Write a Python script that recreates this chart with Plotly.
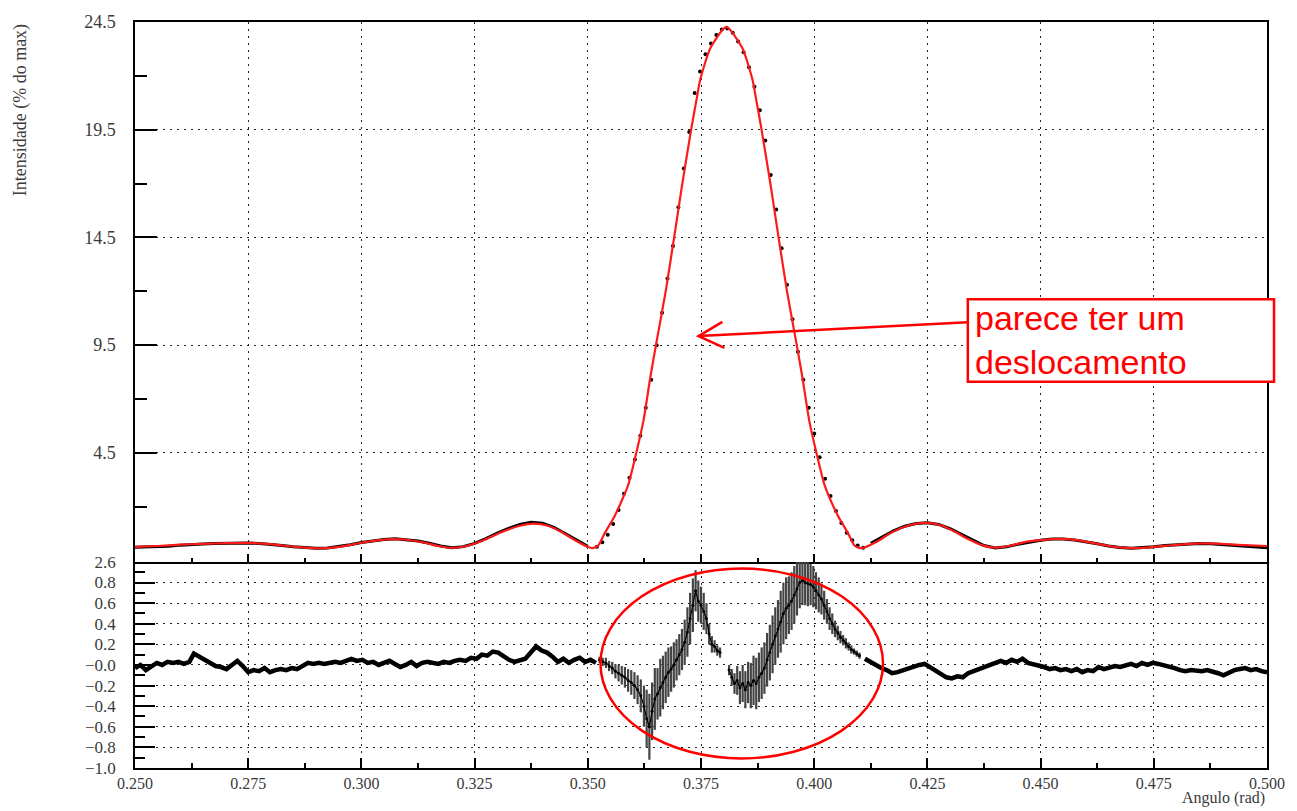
import plotly.graph_objects as go

# ---------------- data ----------------
fit_x = [0.250, 0.255, 0.260, 0.265, 0.270, 0.275, 0.280, 0.285, 0.290, 0.295,
         0.300, 0.304, 0.307, 0.310, 0.314, 0.317, 0.320, 0.323, 0.327, 0.331,
         0.335, 0.338, 0.341, 0.344, 0.347, 0.350, 0.3510, 0.3523, 0.3538, 0.3560,
         0.3589, 0.3607, 0.3623, 0.3638, 0.3651, 0.3672, 0.3691, 0.3708, 0.3729, 0.3741,
         0.3748, 0.3771, 0.3806, 0.3841, 0.3864, 0.3871, 0.3883, 0.3904, 0.3921, 0.3940,
         0.3961, 0.3974, 0.3989, 0.4005, 0.4023, 0.4052, 0.4074, 0.4089, 0.4102, 0.4112,
         0.414, 0.417, 0.421, 0.4245, 0.428, 0.431, 0.434, 0.437, 0.440, 0.443,
         0.447, 0.450, 0.454, 0.458, 0.462, 0.466, 0.470, 0.474, 0.478, 0.482,
         0.486, 0.490, 0.495, 0.500]
fit_y = [0.14, 0.18, 0.24, 0.28, 0.31, 0.32, 0.27, 0.15, 0.07, 0.14,
         0.33, 0.45, 0.50, 0.47, 0.33, 0.18, 0.09, 0.17, 0.45, 0.83,
         1.12, 1.22, 1.13, 0.85, 0.47, 0.14, 0.08, 0.20, 0.80, 1.60,
         3.00, 4.50, 6.00, 8.00, 9.56, 12.0, 14.54, 16.9, 19.6, 21.0,
         21.8, 23.3, 24.27, 23.3, 21.8, 21.0, 19.6, 16.9, 14.54, 12.0,
         9.56, 8.00, 6.00, 4.50, 3.00, 1.60, 0.80, 0.20, 0.08, 0.12,
         0.40, 0.80, 1.14, 1.25, 1.14, 0.85, 0.50, 0.22, 0.10, 0.18,
         0.38, 0.45, 0.51, 0.45, 0.30, 0.15, 0.08, 0.12, 0.20, 0.27,
         0.30, 0.28, 0.22, 0.18]

data_left_x = [0.2500, 0.2525, 0.2550, 0.2575, 0.2600, 0.2625, 0.2650, 0.2675, 0.2700, 0.2725,
               0.2750, 0.2775, 0.2800, 0.2825, 0.2850, 0.2875, 0.2900, 0.2925, 0.2950, 0.2975,
               0.3000, 0.3025, 0.3050, 0.3075, 0.3100, 0.3125, 0.3150, 0.3175, 0.3200, 0.3225,
               0.3250, 0.3275, 0.3300, 0.3325, 0.3350, 0.3375, 0.3400, 0.3425, 0.3450, 0.3475,
               0.3500]
data_left_y = [0.12, 0.13, 0.15, 0.17, 0.22, 0.26, 0.27, 0.29, 0.31, 0.33,
               0.32, 0.30, 0.26, 0.20, 0.14, 0.09, 0.07, 0.09, 0.15, 0.24,
               0.34, 0.42, 0.48, 0.52, 0.48, 0.41, 0.31, 0.18, 0.10, 0.15,
               0.30, 0.52, 0.78, 1.00, 1.18, 1.28, 1.24, 1.05, 0.76, 0.44,
               0.16]
data_mid_x = [0.3520, 0.3532, 0.3544, 0.3556, 0.3568, 0.3580, 0.3592, 0.3604, 0.3616, 0.3628,
              0.3640, 0.3652, 0.3664, 0.3676, 0.3688, 0.3700, 0.3712, 0.3724, 0.3736, 0.3748,
              0.3760, 0.3772, 0.3784, 0.3796, 0.3808, 0.3820, 0.3832, 0.3844, 0.3856, 0.3868,
              0.3880, 0.3892, 0.3904, 0.3916, 0.3928, 0.3940, 0.3952, 0.3964, 0.3976, 0.3988,
              0.4000, 0.4012, 0.4024, 0.4036, 0.4048, 0.4060, 0.4072, 0.4084, 0.4096, 0.4108]
data_mid_y = [0.15, 0.35, 0.70, 1.20, 1.85, 2.60, 3.35, 4.20, 5.30, 6.60,
              7.90, 9.50, 11.0, 12.6, 14.1, 15.9, 17.7, 19.4, 21.2, 22.2,
              23.0, 23.5, 23.9, 24.15, 24.2, 24.0, 23.6, 23.1, 22.4, 21.5,
              20.4, 19.0, 17.4, 15.8, 14.0, 12.3, 10.7, 9.2, 7.9, 6.6,
              5.4, 4.3, 3.3, 2.5, 1.8, 1.25, 0.80, 0.45, 0.20, 0.10]
data_right_x = [0.4125, 0.4150, 0.4175, 0.4200, 0.4225, 0.4250, 0.4275, 0.4300, 0.4325, 0.4350,
                0.4375, 0.4400, 0.4425, 0.4450, 0.4475, 0.4500, 0.4525, 0.4550, 0.4575, 0.4600,
                0.4625, 0.4650, 0.4675, 0.4700, 0.4725, 0.4750, 0.4775, 0.4800, 0.4825, 0.4850,
                0.4875, 0.4900, 0.4925, 0.4950, 0.4975, 0.5000]
data_right_y = [0.30, 0.58, 0.88, 1.10, 1.22, 1.26, 1.18, 0.98, 0.72, 0.44,
                0.20, 0.09, 0.14, 0.26, 0.37, 0.45, 0.50, 0.50, 0.46, 0.38,
                0.28, 0.18, 0.11, 0.08, 0.10, 0.15, 0.20, 0.24, 0.27, 0.29,
                0.28, 0.25, 0.20, 0.16, 0.13, 0.10]

res_left_x = [0.2500, 0.2512, 0.2524, 0.2536, 0.2548, 0.2560, 0.2572, 0.2584, 0.2596, 0.2608,
              0.2620, 0.2630, 0.2642, 0.2654, 0.2666, 0.2678, 0.2690, 0.2702, 0.2714, 0.2726,
              0.2738, 0.2750, 0.2762, 0.2774, 0.2786, 0.2798, 0.2810, 0.2822, 0.2834, 0.2846,
              0.2858, 0.2870, 0.2882, 0.2894, 0.2906, 0.2918, 0.2930, 0.2942, 0.2954, 0.2966,
              0.2978, 0.2990, 0.3002, 0.3014, 0.3026, 0.3038, 0.3050, 0.3062, 0.3074, 0.3086,
              0.3098, 0.3110, 0.3122, 0.3134, 0.3146, 0.3158, 0.3170, 0.3182, 0.3194, 0.3206,
              0.3218, 0.3230, 0.3242, 0.3254, 0.3266, 0.3278, 0.3290, 0.3302, 0.3314, 0.3326,
              0.3338, 0.3350, 0.3362, 0.3374, 0.3386, 0.3398, 0.3410, 0.3422, 0.3434, 0.3446,
              0.3458, 0.3470, 0.3482, 0.3494, 0.3506, 0.3518]
res_left_y = [-0.03, 0.00, -0.05, -0.01, 0.02, 0.00, 0.03, 0.02, 0.03, 0.01,
              0.03, 0.11, 0.08, 0.06, 0.03, -0.01, -0.02, -0.04, 0.00, 0.04,
              -0.01, -0.07, -0.05, -0.06, -0.03, -0.07, -0.05, -0.04, -0.05, -0.03,
              -0.04, -0.01, 0.02, 0.01, 0.02, 0.01, 0.02, 0.03, 0.02, 0.04,
              0.06, 0.04, 0.05, 0.02, 0.03, 0.00, 0.02, 0.04, 0.01, -0.02,
              0.00, 0.03, -0.01, 0.02, 0.03, 0.02, 0.01, 0.03, 0.02, 0.04,
              0.05, 0.04, 0.07, 0.06, 0.10, 0.09, 0.13, 0.12, 0.08, 0.05,
              0.03, 0.04, 0.06, 0.12, 0.18, 0.14, 0.12, 0.08, 0.03, 0.06,
              0.02, 0.05, 0.07, 0.03, 0.05, 0.02]

res_mid_x = [0.3526, 0.3533, 0.3540, 0.3547, 0.3554, 0.3561, 0.3568, 0.3575, 0.3582, 0.3589,
             0.3596, 0.3603, 0.3610, 0.3617, 0.3624, 0.3630, 0.3636, 0.3642, 0.3648, 0.3654,
             0.3660, 0.3666, 0.3672, 0.3678, 0.3684, 0.3690, 0.3696, 0.3702, 0.3708, 0.3714,
             0.3720, 0.3726, 0.3732, 0.3738, 0.3744, 0.3750, 0.3756, 0.3762, 0.3768, 0.3774,
             0.3780, 0.3786, 0.3792, None, 0.3812, 0.3818, 0.3824, 0.3830, 0.3836, 0.3842,
             0.3848, 0.3854, 0.3860, 0.3866, 0.3872, 0.3878, 0.3884, 0.3890, 0.3896, 0.3902,
             0.3908, 0.3914, 0.3920, 0.3926, 0.3932, 0.3938, 0.3944, 0.3950, 0.3956, 0.3962,
             0.3968, 0.3974, 0.3980, 0.3986, 0.3992, 0.3998, 0.4004, 0.4010, 0.4016, 0.4022,
             0.4028, 0.4034, 0.4040, 0.4046, 0.4052, 0.4058, 0.4064, 0.4070, 0.4076, 0.4082,
             0.4088, 0.4094, 0.4100]
res_mid_y = [0.05, 0.03, 0.02, -0.01, -0.03, -0.06, -0.08, -0.10, -0.12, -0.15,
             -0.17, -0.20, -0.24, -0.30, -0.40, -0.52, -0.60, -0.45, -0.33, -0.28,
             -0.22, -0.17, -0.12, -0.07, -0.04, 0.00, 0.05, 0.10, 0.15, 0.22,
             0.32, 0.45, 0.58, 0.72, 0.62, 0.58, 0.52, 0.45, 0.30, 0.20,
             0.18, 0.14, 0.12, None, -0.05, -0.12, -0.18, -0.15, -0.22, -0.18,
             -0.24, -0.17, -0.20, -0.15, -0.18, -0.12, -0.08, -0.03, 0.05, 0.12,
             0.20, 0.28, 0.35, 0.42, 0.50, 0.55, 0.58, 0.62, 0.68, 0.74,
             0.80, 0.82, 0.80, 0.79, 0.78, 0.76, 0.72, 0.68, 0.64, 0.58,
             0.52, 0.45, 0.40, 0.35, 0.31, 0.27, 0.24, 0.21, 0.18, 0.15,
             0.13, 0.11, 0.09]
res_mid_err = [0.03, 0.04, 0.05, 0.05, 0.06, 0.07, 0.08, 0.09, 0.10, 0.11,
               0.12, 0.13, 0.14, 0.16, 0.20, 0.28, 0.32, 0.28, 0.30, 0.25,
               0.28, 0.26, 0.25, 0.24, 0.22, 0.22, 0.20, 0.20, 0.20, 0.22,
               0.24, 0.25, 0.26, 0.20, 0.20, 0.18, 0.18, 0.15, 0.10, 0.08,
               0.06, 0.05, 0.05, None, 0.05, 0.08, 0.10, 0.14, 0.16, 0.18,
               0.18, 0.20, 0.22, 0.24, 0.25, 0.24, 0.25, 0.25, 0.26, 0.27,
               0.28, 0.28, 0.28, 0.30, 0.30, 0.30, 0.28, 0.28, 0.28, 0.26,
               0.25, 0.24, 0.22, 0.22, 0.20, 0.20, 0.18, 0.17, 0.15, 0.14,
               0.12, 0.11, 0.10, 0.08, 0.07, 0.06, 0.05, 0.05, 0.04, 0.04,
               0.03, 0.03, 0.03]

res_right_x = [0.4112, 0.4124, 0.4136, 0.4148, 0.4160, 0.4172, 0.4184, 0.4196, 0.4208, 0.4220,
               0.4232, 0.4244, 0.4256, 0.4268, 0.4280, 0.4292, 0.4304, 0.4316, 0.4328, 0.4340,
               0.4352, 0.4364, 0.4376, 0.4388, 0.4400, 0.4412, 0.4424, 0.4436, 0.4448, 0.4460,
               0.4472, 0.4484, 0.4496, 0.4508, 0.4520, 0.4532, 0.4544, 0.4556, 0.4568, 0.4580,
               0.4592, 0.4604, 0.4616, 0.4628, 0.4640, 0.4652, 0.4664, 0.4676, 0.4688, 0.4700,
               0.4712, 0.4724, 0.4736, 0.4748, 0.4760, 0.4772, 0.4784, 0.4796, 0.4808, 0.4820,
               0.4832, 0.4844, 0.4856, 0.4868, 0.4880, 0.4892, 0.4904, 0.4916, 0.4928, 0.4940,
               0.4952, 0.4964, 0.4976, 0.4988, 0.5000]
res_right_y = [0.06, 0.03, -0.01, -0.03, -0.05, -0.08, -0.07, -0.05, -0.03, -0.01,
               0.00, 0.01, -0.02, -0.06, -0.09, -0.12, -0.13, -0.11, -0.12, -0.08,
               -0.06, -0.04, -0.02, 0.01, 0.02, 0.04, 0.02, 0.05, 0.03, 0.06,
               0.02, 0.01, -0.01, -0.02, -0.04, -0.03, -0.05, -0.04, -0.06, -0.04,
               -0.07, -0.05, -0.06, -0.02, -0.04, -0.03, -0.01, -0.02, 0.00, 0.01,
               -0.01, 0.02, 0.00, 0.02, 0.01, 0.00, -0.02, -0.03, -0.05, -0.06,
               -0.05, -0.06, -0.06, -0.05, -0.06, -0.08, -0.10, -0.07, -0.05, -0.04,
               -0.03, -0.05, -0.04, -0.06, -0.07]

x_tick_vals = [0.250, 0.275, 0.300, 0.325, 0.350, 0.375, 0.400, 0.425, 0.450, 0.475, 0.500]
x_tick_text = ["0.250", "0.275", "0.300", "0.325", "0.350", "0.375", "0.400", "0.425", "0.450", "0.475", "0.500"]
x_minor_vals = [0.2625, 0.2875, 0.3125, 0.3375, 0.3625, 0.3875, 0.4125, 0.4375, 0.4625, 0.4875]
top_y_vals = [4.5, 9.5, 14.5, 19.5, 24.5]
top_y_text = ["4.5", "9.5", "14.5", "19.5", "24.5"]
top_y_minor = [2, 7, 12, 17, 22]
bot_y_vals = [-1.0, -0.8, -0.6, -0.4, -0.2, 0.0, 0.2, 0.4, 0.6, 0.8, 1.0]
bot_y_text = ["\u22121.0", "\u22120.8", "\u22120.6", "\u22120.4", "\u22120.2", "\u22120.0",
              "0.2", "0.4", "0.6", "0.8", "2.6"]
bot_y_minor = [-0.9, -0.7, -0.5, -0.3, -0.1, 0.1, 0.3, 0.5, 0.7, 0.9]

# ---------------- figure ----------------
SERIF = "Liberation Serif, Times New Roman, serif"
TXT = "#3a3a3a"
split = 208 / 753.0
GRID_DASH = "2px,5px"

fig = go.Figure()

fig.add_trace(go.Scatter(x=data_left_x, y=data_left_y, mode="lines",
                         line=dict(color="black", width=3), xaxis="x", yaxis="y", showlegend=False))
fig.add_trace(go.Scatter(x=data_right_x, y=data_right_y, mode="lines",
                         line=dict(color="black", width=3), xaxis="x", yaxis="y", showlegend=False))
fig.add_trace(go.Scatter(x=data_mid_x, y=data_mid_y, mode="markers",
                         marker=dict(color="black", size=4), xaxis="x", yaxis="y", showlegend=False))
fig.add_trace(go.Scatter(x=fit_x, y=fit_y, mode="lines",
                         line=dict(color="#ff1a1a", width=2.2, shape="spline", smoothing=0.6),
                         xaxis="x", yaxis="y", showlegend=False))

fig.add_trace(go.Scatter(x=res_left_x, y=res_left_y, mode="lines", line=dict(color="black", width=4.5),
                         xaxis="x2", yaxis="y2", showlegend=False))
fig.add_trace(go.Scatter(x=res_mid_x, y=res_mid_y, mode="lines+markers",
                         line=dict(color="black", width=1.2), marker=dict(color="black", size=3),
                         error_y=dict(type="data", array=res_mid_err, color="#444444", thickness=2.2, width=0),
                         xaxis="x2", yaxis="y2", showlegend=False))
fig.add_trace(go.Scatter(x=res_right_x, y=res_right_y, mode="lines", line=dict(color="black", width=4.5),
                         xaxis="x2", yaxis="y2", showlegend=False))

axis_common = dict(showline=True, linecolor="black", linewidth=1.5,
                   ticks="inside", tickcolor="black", tickwidth=1.5,
                   showgrid=True, gridcolor="#222222", gridwidth=1.2, griddash=GRID_DASH,
                   zeroline=False, tickfont=dict(family=SERIF, size=18, color=TXT))

fig.update_layout(
    width=1297, height=811,
    margin=dict(l=135, r=27, t=15, b=43),
    paper_bgcolor="white", plot_bgcolor="white",
    xaxis=dict(axis_common, mirror=True, domain=[0, 1], anchor="y", range=[0.25, 0.5], matches="x2",
               tickmode="array", tickvals=x_tick_vals, showticklabels=False, ticklen=8,
               minor=dict(tickmode="array", tickvals=x_minor_vals, ticklen=4, ticks="inside",
                          tickcolor="black", showgrid=False)),
    yaxis=dict(axis_common, mirror=True, domain=[split, 1], anchor="x", range=[-0.56, 24.5],
               tickmode="array", tickvals=top_y_vals, ticktext=top_y_text, ticklen=22,
               ticklabelstandoff=14,
               minor=dict(tickmode="array", tickvals=top_y_minor, ticklen=12, ticks="inside",
                          tickcolor="black", showgrid=False)),
    xaxis2=dict(axis_common, mirror=False, domain=[0, 1], anchor="y2", range=[0.25, 0.5],
                tickmode="array", tickvals=x_tick_vals, ticktext=x_tick_text, ticklen=10,
                ticklabelstandoff=0,
                minor=dict(tickmode="array", tickvals=x_minor_vals, ticklen=5, ticks="inside",
                           tickcolor="black", showgrid=False)),
    yaxis2=dict(axis_common, mirror=True, domain=[0, split], anchor="x2", range=[-1.0, 1.0],
                tickmode="array", tickvals=bot_y_vals, ticktext=bot_y_text, ticklen=20,
                ticklabelstandoff=14,
                minor=dict(tickmode="array", tickvals=bot_y_minor, ticklen=10, ticks="inside",
                           tickcolor="black", showgrid=False)),
)
fig.update_layout(yaxis2_tickfont_size=17, xaxis2_tickfont_size=16)

# axis titles (ROOT style placement)
fig.add_annotation(text="Intensidade (% do max)", xref="paper", yref="paper",
                   x=-0.1013, y=1.0, xanchor="center", yanchor="top", textangle=-90,
                   showarrow=False, font=dict(family=SERIF, size=18, color=TXT))
fig.add_annotation(text="Angulo (rad)", xref="paper", yref="paper",
                   x=1.0, y=-0.0405, xanchor="right", yanchor="middle",
                   showarrow=False, font=dict(family=SERIF, size=16, color=TXT))

# red note box, arrow and ellipse
RED = "#ff0000"
fig.add_shape(type="rect", xref="paper", yref="paper", x0=0.7357, x1=1.0062, y0=0.5179, y1=0.6282,
              line=dict(color=RED, width=2.5), fillcolor="white", layer="above")
fig.add_annotation(text="parece ter um<br>deslocamento", xref="paper", yref="paper",
                   x=0.740, y=0.5735, xanchor="left", yanchor="middle", align="left",
                   showarrow=False, font=dict(family="Liberation Sans, Arial, sans-serif", size=34, color=RED))
fig.add_shape(type="line", xref="paper", yref="paper", x0=0.7357, y0=0.5976, x1=0.4978, y1=0.5790,
              line=dict(color=RED, width=2.5))
fig.add_shape(type="path", xref="paper", yref="paper",
              path="M 0.5189 0.5980 L 0.4978 0.5790 L 0.5207 0.5631",
              line=dict(color=RED, width=2.5))
fig.add_shape(type="circle", xref="x2", yref="y2", x0=0.3528, x1=0.4152, y0=-0.907, y1=0.936,
              line=dict(color=RED, width=2.5))

fig.write_html("out.html")
